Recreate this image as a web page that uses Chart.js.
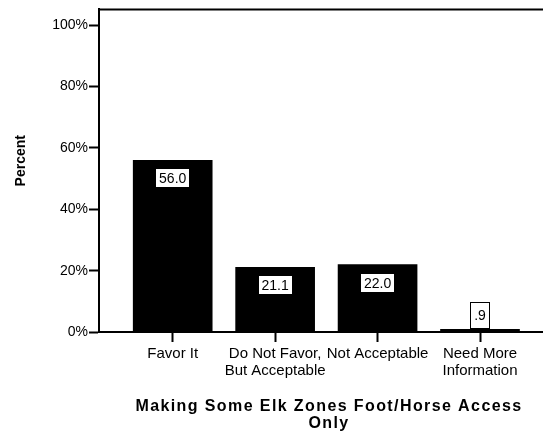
<!DOCTYPE html>
<html><head><meta charset="utf-8">
<script src="https://cdn.jsdelivr.net/npm/chart.js@4"></script>
<style>html,body{margin:0;padding:0;background:#fff}canvas{display:block}</style>
</head><body>
<canvas id="c" width="543" height="437"></canvas>
<script>
const categories = [['Favor It'], ['Do Not Favor,', 'But Acceptable'], ['Not Acceptable'], ['Need More', 'Information']];
const percents = [56.0, 21.1, 22.0, 0.9];
const valueLabels = ['56.0', '21.1', '22.0', '.9'];
const yTickValues = [0, 20, 40, 60, 80, 100];
const yTitle = 'Percent';
const xTitle = ['Making Some Elk Zones Foot/Horse Access', 'Only'];

const FONT = '"Liberation Sans", Arial, sans-serif';

const overlay = {
  id: 'overlay',
  afterDraw(chart) {
    const ctx = chart.ctx, ca = chart.chartArea;
    ctx.save();
    // top frame line
    ctx.strokeStyle = '#000'; ctx.lineWidth = 2;
    ctx.beginPath(); ctx.moveTo(ca.left - 1, ca.top); ctx.lineTo(ca.right, ca.top); ctx.stroke();
    // value label boxes
    ctx.font = '14px ' + FONT;
    ctx.textAlign = 'center'; ctx.textBaseline = 'middle';
    chart.getDatasetMeta(0).data.forEach((bar, i) => {
      const t = valueLabels[i];
      const w = Math.round(ctx.measureText(t).width) + 8;
      let top, h;
      if (bar.base - bar.y < 30) { h = 27; top = Math.round(bar.y) - h; }
      else { h = 20; top = Math.round(bar.y) + 8; }
      const left = Math.round(bar.x - w / 2);
      ctx.fillStyle = '#fff';
      ctx.fillRect(left, top, w, h);
      ctx.strokeStyle = '#000'; ctx.lineWidth = 1;
      ctx.strokeRect(left + 0.5, top + 0.5, w - 1, h - 1);
      ctx.fillStyle = '#000';
      ctx.fillText(t, bar.x, top + h / 2 + 1);
    });
    // y title
    ctx.font = 'bold 14px ' + FONT;
    ctx.save();
    ctx.translate(21, (ca.top + ca.bottom) / 2 - 10);
    ctx.rotate(-Math.PI / 2);
    ctx.fillText(yTitle, 0, 0);
    ctx.restore();
    // x title
    ctx.font = 'bold 16px ' + FONT;
    try { ctx.letterSpacing = '1.4px'; } catch (e) {}
    const cx = (ca.left + ca.right) / 2 + 7;
    xTitle.forEach((line, k) => ctx.fillText(line, cx + 1, ca.bottom + 75 + k * 17));
    ctx.restore();
  }
};

new Chart(document.getElementById('c'), {
  type: 'bar',
  data: {
    datasets: [{
      data: percents.map((v, i) => ({ x: i, y: v })),
      backgroundColor: '#000',
      borderWidth: 0,
      barThickness: 79
    }]
  },
  options: {
    responsive: false,
    animation: false,
    devicePixelRatio: 1,
    layout: { padding: { top: 6, left: 0, right: 0, bottom: 0 } },
    plugins: { legend: { display: false }, tooltip: { enabled: false } },
    scales: {
      x: {
        type: 'linear',
        offset: false,
        min: -0.7195,
        max: 3.615,
        afterFit(s) { s.height = 105; },
        ticks: {
          stepSize: 1, includeBounds: false, autoSkip: false, maxRotation: 0, minRotation: 0,
          padding: 3, color: '#000', font: { family: FONT, size: 15, lineHeight: 1.13 },
          callback: (v) => (Number.isInteger(v) && categories[v]) ? categories[v] : ''
        },
        grid: { offset: false, drawOnChartArea: false, drawTicks: true, tickLength: 10, tickWidth: 2, tickColor: '#000', color: '#000' },
        border: { display: true, color: '#000', width: 2 }
      },
      y: {
        min: 0,
        max: 105.16,
        afterFit(s) { s.width = 99; },
        afterBuildTicks(s) { s.ticks = yTickValues.map(v => ({ value: v })); },
        ticks: {
          padding: 1, color: '#000', font: { family: FONT, size: 14, lineHeight: 1.2 },
          callback: (v) => v + '%'
        },
        grid: { drawOnChartArea: false, drawTicks: true, tickLength: 10, tickWidth: 2, tickColor: '#000', color: '#000' },
        border: { display: true, color: '#000', width: 2 }
      }
    }
  },
  plugins: [overlay]
});
</script>
</body></html>
